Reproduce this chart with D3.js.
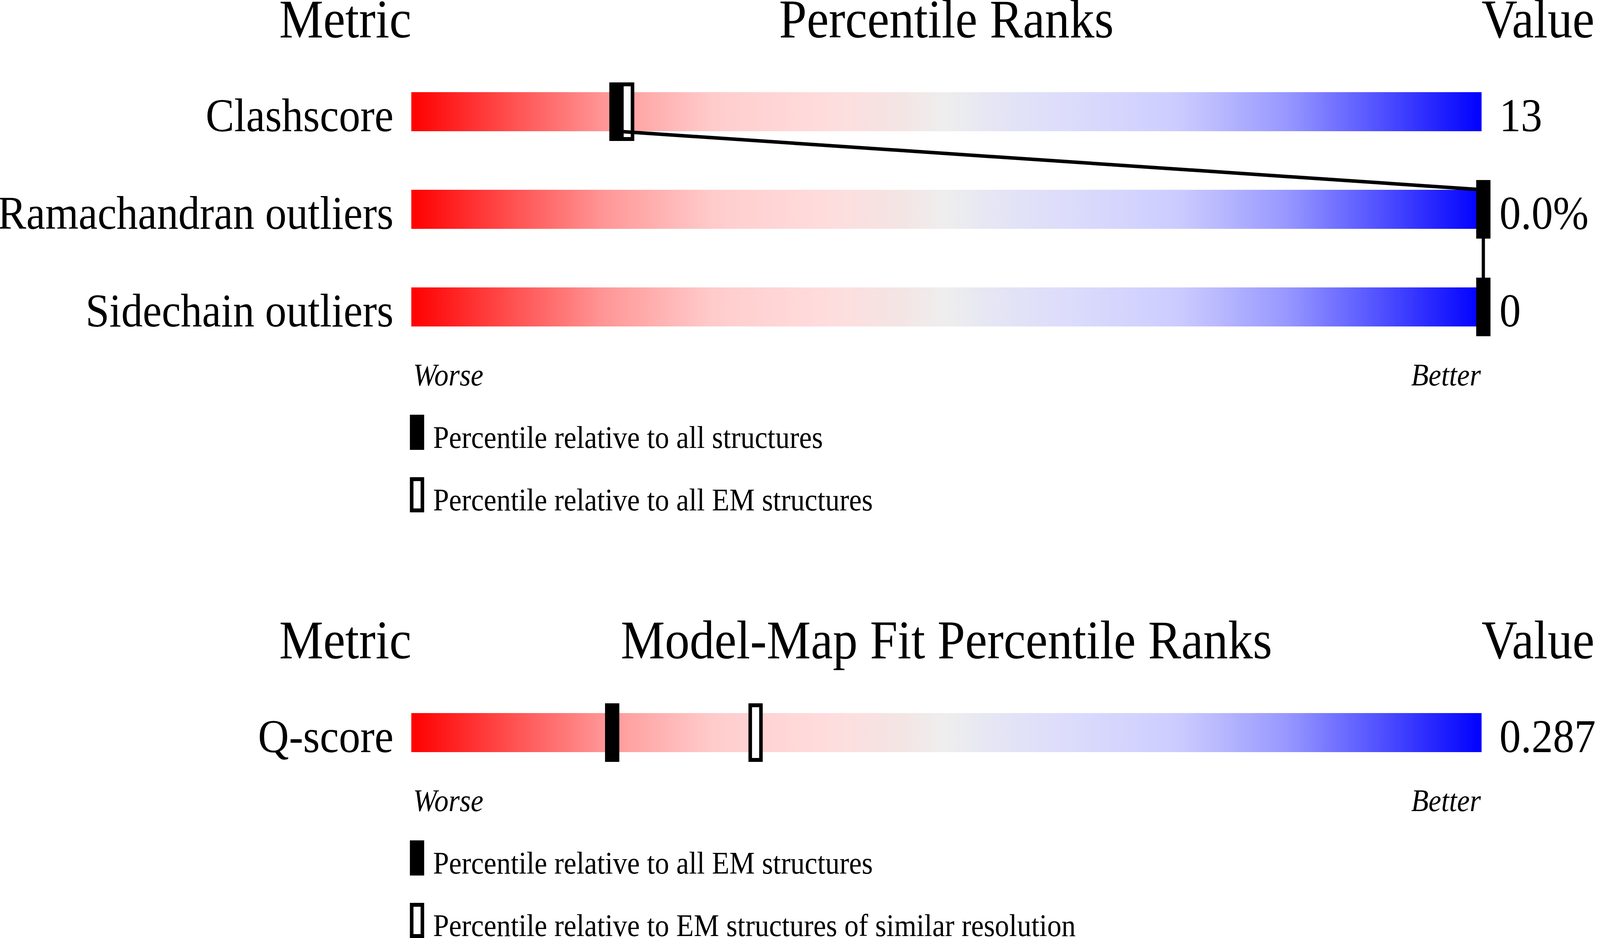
<!DOCTYPE html>
<html>
<head>
<meta charset="utf-8">
<script src="https://cdn.jsdelivr.net/npm/d3@7/dist/d3.min.js"></script>
<style>
  html, body { margin: 0; padding: 0; background: #fff; width: 100%; height: 100%; overflow: hidden; }
  svg { display: block; width: 100vw; height: 100vh; }
  text { font-family: "Liberation Serif", "Times New Roman", Times, serif; fill: #000; }
</style>
</head>
<body>
<svg viewBox="0 0 4485 2402" preserveAspectRatio="none"></svg>
<script>
// panel 1 : geometry
var metrics1 = ['Clashscore', 'Ramachandran outliers', 'Sidechain outliers'];
var values1 = ['13', '0.0%', '0'];
var pctAll1 = [19, 100, 100];
var pctEM1 = [20, null, null];
var legend1 = ['Percentile relative to all structures', 'Percentile relative to all EM structures'];

// panel 2 : model-map fit
var metrics2 = ['Q-score'];
var values2 = ['0.287'];
var pctEM2 = [18.6];
var pctRes2 = [32];
var legend2 = ['Percentile relative to all EM structures', 'Percentile relative to EM structures of similar resolution'];

var titles = ['Percentile Ranks', 'Model-Map Fit Percentile Ranks'];

// colour ramp of the slider (worse -> better)
var rampStops = [0, 0.09, 0.184, 0.284, 0.384, 0.45, 0.5, 0.55, 0.616, 0.716, 0.816, 0.91, 1];
var rampColors = ['#ff0000', '#ff4d4d', '#ff9999', '#ffcccc', '#ffdcdc', '#f5e3e3', '#eeeeee',
                  '#e4e4f5', '#dcdcfc', '#ccccff', '#9999ff', '#4d4dff', '#0000ff'];

var svg = d3.select('svg');
var barLeft = 1153, barRight = 4153, barH = 100, rowStep = 250;

var x = d3.scaleLinear().domain([0, 100]).range([barLeft, barRight]);
var color = d3.scaleLinear().domain(rampStops).range(rampColors);

var grad = svg.append('defs').append('linearGradient')
    .attr('id', 'ramp')
    .attr('gradientUnits', 'userSpaceOnUse')
    .attr('x1', barLeft).attr('x2', barRight)
    .attr('y1', 0).attr('y2', 0);

grad.selectAll('stop')
    .data(d3.range(0, 1.0001, 0.02))
    .enter()
    .append('stop')
        .attr('offset', function (d) { return d; })
        .attr('stop-color', function (d) { return color(d); });

function marker(g, p, cy, open) {
    var mx = x(p) - 15;
    if (open) {
        g.append('rect')
            .attr('x', mx + 5).attr('y', cy - 70)
            .attr('width', 30).attr('height', 140)
            .attr('fill', '#fff')
            .attr('stroke', '#000')
            .attr('stroke-width', 10);
    } else {
        g.append('rect')
            .attr('x', mx).attr('y', cy - 75)
            .attr('width', 40).attr('height', 150)
            .attr('fill', '#000');
    }
}

function panel(top, title, metrics, values, pctA, pctB, legend) {
    var g = svg.append('g').attr('transform', 'translate(0,' + top + ')');
    var y = d3.scaleLinear().domain([0, 1]).range([236, 236 + rowStep]);

    // headers
    g.append('text').attr('x', barLeft).attr('y', 96)
        .attr('text-anchor', 'end').attr('font-size', 139).text('Metric');
    g.append('text').attr('x', (barLeft + barRight) / 2).attr('y', 96)
        .attr('text-anchor', 'middle').attr('font-size', 139).text(title);
    g.append('text').attr('x', barRight).attr('y', 96)
        .attr('font-size', 139).text('Value');

    var rows = g.selectAll('.row')
        .data(metrics)
        .enter()
        .append('g')
            .attr('class', 'row');

    rows.append('rect')
        .attr('x', barLeft)
        .attr('y', function (d, i) { return y(i); })
        .attr('width', barRight - barLeft)
        .attr('height', barH)
        .attr('fill', 'url(#ramp)');

    rows.append('text')
        .attr('x', 1103)
        .attr('y', function (d, i) { return y(i) + barH; })
        .attr('text-anchor', 'end')
        .attr('font-size', 120)
        .text(function (d) { return d; });

    rows.append('text')
        .attr('x', 4203)
        .attr('y', function (d, i) { return y(i) + barH; })
        .attr('font-size', 120)
        .text(function (d, i) { return values[i]; });

    // markers: open first, filled on top
    metrics.forEach(function (d, i) {
        var cy = y(i) + barH / 2;
        if (pctB[i] != null) marker(g, pctB[i], cy, true);
    });
    metrics.forEach(function (d, i) {
        var cy = y(i) + barH / 2;
        if (pctA[i] != null) marker(g, pctA[i], cy, false);
    });

    // connecting line between the filled markers
    var pts = [];
    pctA.forEach(function (p, i) {
        if (i > 0) pts.push([x(p) + 5, y(i)]);
        if (i < pctA.length - 1) pts.push([x(p) + 5, y(i) + barH]);
    });
    if (pts.length > 1) {
        g.append('path')
            .attr('d', d3.line()(pts))
            .attr('fill', 'none')
            .attr('stroke', '#000')
            .attr('stroke-width', 9);
    }

    var n = metrics.length;
    var low = y(n - 1) + barH;

    g.append('text').attr('x', barLeft + 5).attr('y', low + 151)
        .attr('font-size', 80).attr('font-style', 'italic').text('Worse');
    g.append('text').attr('x', barRight - 2).attr('y', low + 151)
        .attr('text-anchor', 'end')
        .attr('font-size', 80).attr('font-style', 'italic').text('Better');

    // legend
    legend.forEach(function (t, i) {
        var ly = low + 226 + i * 160;
        if (i === 0) {
            g.append('rect').attr('x', 1149).attr('y', ly)
                .attr('width', 40).attr('height', 90).attr('fill', '#000');
        } else {
            g.append('rect').attr('x', 1154).attr('y', ly + 5)
                .attr('width', 30).attr('height', 80)
                .attr('fill', '#fff').attr('stroke', '#000').attr('stroke-width', 10);
        }
        g.append('text').attr('x', 1214).attr('y', ly + 85)
            .attr('font-size', 80).text(t);
    });
}

panel(0, titles[0], metrics1, values1, pctAll1, pctEM1, legend1);
panel(1590, titles[1], metrics2, values2, pctEM2, pctRes2, legend2);
</script>
</body>
</html>
